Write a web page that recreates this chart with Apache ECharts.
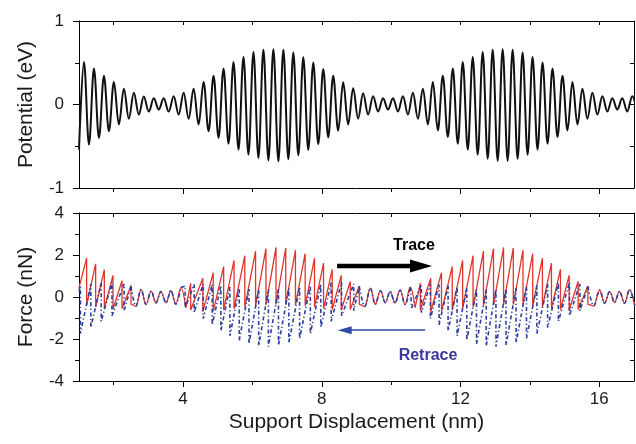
<!DOCTYPE html>
<html>
<head>
<meta charset="utf-8">
<script src="https://cdn.jsdelivr.net/npm/echarts@6/dist/echarts.min.js"></script>
<style>
  html, body { margin: 0; padding: 0; background: #fff; }
  #chart { width: 636px; height: 444px; }
</style>
</head>
<body>
<div id="chart"></div>
<script>
// Substrate potential sampled at its successive minima / maxima (eV).
// First entry is a minimum at potentialStartX, then max, min, max, ...
const potentialStartX = 1.0;        // nm
const potentialHalfStep = 0.14369;  // nm between neighbouring extrema
const potentialExtrema = [
  -0.54,
  0.51, -0.48, 0.43, -0.40, 0.345, -0.32, 0.27, -0.24, 0.19, -0.17,
  0.14, -0.12, 0.095, -0.085, 0.075, -0.06, 0.075, -0.085, 0.10, -0.12,
  0.14, -0.17, 0.19, -0.24, 0.27, -0.32, 0.345, -0.40, 0.43, -0.47,
  0.51, -0.54, 0.57, -0.60, 0.63, -0.64, 0.655, -0.67, 0.663, -0.68,
  0.655, -0.655, 0.623, -0.607, 0.567, -0.544, 0.504, -0.476, 0.425, -0.393,
  0.345, -0.313, 0.266, -0.238, 0.194, -0.17, 0.135, -0.12, 0.10, -0.083,
  0.075, -0.06, 0.075, -0.083, 0.10, -0.12, 0.14, -0.17, 0.19, -0.24,
  0.27, -0.31, 0.345, -0.39, 0.43, -0.47, 0.51, -0.54, 0.57, -0.60,
  0.63, -0.65, 0.655, -0.675, 0.663, -0.675, 0.655, -0.65, 0.623, -0.60,
  0.57, -0.54, 0.504, -0.47, 0.43, -0.39, 0.345, -0.31, 0.27, -0.24,
  0.19, -0.17, 0.14, -0.12, 0.10, -0.083, 0.075, -0.06, 0.075, -0.083,
  0.10, -0.12
];

// Lateral force while the support moves forward (trace), [nm, nN].
// Stick-slip: each slip is a vertical drop at the same x.
const traceForce = [
  [1.00, 0.45],
  [1.22, 1.85], [1.22, -0.40], [1.48, 1.58], [1.48, -0.48], [1.73, 1.30], [1.73, -0.55],
  [1.98, 1.03], [1.98, -0.58], [2.24, 0.78], [2.24, -0.55], [2.50, 0.55], [2.50, -0.35],
  [2.64, -0.44], [2.79, 0.36], [2.93, -0.36], [3.08, 0.28], [3.22, -0.28], [3.36, 0.26],
  [3.51, -0.27], [3.65, 0.31], [3.79, -0.34], [3.94, 0.45], [4.08, -0.50],
  [4.22, 0.65], [4.22, -0.62], [4.57, 0.89], [4.57, -0.70], [4.87, 1.16], [4.87, -0.68],
  [5.17, 1.45], [5.17, -0.62], [5.47, 1.74], [5.47, -0.55], [5.78, 1.97], [5.78, -0.48],
  [6.09, 2.18], [6.09, -0.42], [6.39, 2.30], [6.39, -0.38], [6.68, 2.36], [6.68, -0.36],
  [6.96, 2.33], [6.96, -0.36], [7.24, 2.23], [7.24, -0.38], [7.52, 2.06], [7.52, -0.42],
  [7.79, 1.85], [7.79, -0.48], [8.05, 1.61], [8.05, -0.55], [8.30, 1.32], [8.30, -0.60],
  [8.56, 1.03], [8.56, -0.62], [8.82, 0.74], [8.82, -0.60], [9.08, 0.52], [9.08, -0.35],
  [9.24, -0.45], [9.40, 0.42], [9.54, -0.35], [9.69, 0.30], [9.83, -0.27], [9.97, 0.26],
  [10.11, -0.28], [10.26, 0.33], [10.40, -0.36], [10.55, 0.47], [10.69, -0.50],
  [10.84, 0.65], [10.84, -0.62], [11.14, 0.89], [11.14, -0.70], [11.45, 1.16], [11.45, -0.68],
  [11.76, 1.45], [11.76, -0.62], [12.06, 1.74], [12.06, -0.55], [12.36, 1.97], [12.36, -0.48],
  [12.66, 2.18], [12.66, -0.42], [12.95, 2.30], [12.95, -0.38], [13.24, 2.36], [13.24, -0.36],
  [13.52, 2.33], [13.52, -0.36], [13.80, 2.23], [13.80, -0.38], [14.08, 2.06], [14.08, -0.42],
  [14.36, 1.85], [14.36, -0.48], [14.62, 1.61], [14.62, -0.55], [14.88, 1.32], [14.88, -0.60],
  [15.13, 1.03], [15.13, -0.62], [15.39, 0.74], [15.39, -0.60], [15.67, 0.52], [15.67, -0.35],
  [15.84, -0.42], [16.01, 0.33], [16.15, -0.30], [16.30, 0.26], [16.44, -0.26], [16.58, 0.27],
  [16.73, -0.30], [16.87, 0.35], [17.02, -0.40]
];

// Lateral force on the way back (retrace), [nm, nN].
const retraceForce = [
  [1.00, 0.30], [1.04, 0.55], [1.04, -1.74], [1.34, 0.62], [1.34, -1.45], [1.64, 0.68], [1.64, -1.16],
  [1.95, 0.70], [1.95, -0.89], [2.30, 0.62], [2.30, -0.65], [2.50, 0.50],
  [2.64, -0.44], [2.79, 0.36], [2.93, -0.36], [3.08, 0.28], [3.22, -0.28], [3.36, 0.26],
  [3.51, -0.27], [3.65, 0.31], [3.79, -0.34], [3.94, 0.45],
  [4.06, 0.52], [4.06, -0.52], [4.32, 0.60], [4.32, -0.74], [4.58, 0.62], [4.58, -1.03],
  [4.84, 0.60], [4.84, -1.32], [5.09, 0.55], [5.09, -1.61], [5.35, 0.48], [5.35, -1.85],
  [5.62, 0.42], [5.62, -2.06], [5.90, 0.38], [5.90, -2.23], [6.18, 0.36], [6.18, -2.33],
  [6.46, 0.36], [6.46, -2.36], [6.75, 0.38], [6.75, -2.30], [7.05, 0.42], [7.05, -2.18],
  [7.36, 0.48], [7.36, -1.97], [7.67, 0.55], [7.67, -1.74], [7.97, 0.62], [7.97, -1.45],
  [8.27, 0.68], [8.27, -1.16], [8.57, 0.70], [8.57, -0.89], [8.92, 0.62], [8.92, -0.65],
  [9.08, 0.50],
  [9.24, -0.45], [9.40, 0.42], [9.54, -0.35], [9.69, 0.30], [9.83, -0.27], [9.97, 0.26],
  [10.11, -0.28], [10.26, 0.33], [10.40, -0.36], [10.55, 0.47],
  [10.59, 0.52], [10.59, -0.52], [10.87, 0.60], [10.87, -0.74], [11.13, 0.62], [11.13, -1.03],
  [11.38, 0.60], [11.38, -1.32], [11.64, 0.55], [11.64, -1.61], [11.90, 0.48], [11.90, -1.85],
  [12.18, 0.42], [12.18, -2.06], [12.46, 0.38], [12.46, -2.23], [12.74, 0.36], [12.74, -2.33],
  [13.02, 0.36], [13.02, -2.36], [13.31, 0.38], [13.31, -2.30], [13.60, 0.42], [13.60, -2.18],
  [13.90, 0.48], [13.90, -1.97], [14.20, 0.55], [14.20, -1.74], [14.51, 0.62], [14.51, -1.45],
  [14.82, 0.68], [14.82, -1.16], [15.14, 0.70], [15.14, -0.89], [15.44, 0.62], [15.44, -0.65],
  [15.67, 0.50],
  [15.84, -0.42], [16.01, 0.33], [16.15, -0.30], [16.30, 0.26], [16.44, -0.26], [16.58, 0.27],
  [16.73, -0.30], [16.87, 0.35], [17.02, -0.40]
];

// x-ranges (nm) where the sliding is smooth rather than stick-slip
const traceSmoothSpans = [[2.50, 4.08], [9.08, 10.69], [15.67, 17.1]];
const retraceSmoothSpans = [[2.50, 3.94], [9.08, 10.55], [15.67, 17.1]];

// Tick positions on the displacement axis
const xLabelTicks = [4, 8, 12, 16];
const xMinorTicks = [2, 6, 10, 14];
const xAllTicks = [2, 4, 6, 8, 10, 12, 14, 16];

// Arrow annotations [from, to] in data units
const traceArrow = [[8.44, 1.48], [10.86, 1.48]];
const retraceArrow = [[10.98, -1.58], [8.66, -1.58]];

const FONT = '"Liberation Sans", Arial, Helvetica, sans-serif';
const RED = '#e3342b';
const BLUE = '#2b3f9d';

// Break a vertex list into straight (stick-slip) runs and smooth runs.
function splitRuns(points, spans) {
  const inSpan = x => spans.some(s => x >= s[0] - 1e-9 && x <= s[1] + 1e-9);
  const straight = [], smooth = [];
  let cur = null, curSmooth = null;
  const flush = () => {
    if (!cur) return;
    const target = curSmooth ? smooth : straight;
    if (target.length) target.push([cur[0][0], null]);
    cur.forEach(p => target.push(p));
  };
  for (let i = 0; i < points.length - 1; i++) {
    const s = inSpan(points[i][0]) && inSpan(points[i + 1][0]);
    if (cur && s === curSmooth) {
      cur.push(points[i + 1]);
    } else {
      flush();
      cur = [points[i], points[i + 1]];
      curSmooth = s;
    }
  }
  flush();
  return { straight, smooth };
}

const potentialData = potentialExtrema.map((v, i) => [potentialStartX + i * potentialHalfStep, v]);
const traceRuns = splitRuns(traceForce, traceSmoothSpans);
const retraceRuns = splitRuns(retraceForce, retraceSmoothSpans);

const axisLine = { show: true, onZero: false, lineStyle: { color: '#000', width: 1 } };
const noSplit = { show: false };
const retraceStyle = { color: BLUE, width: 1.6, type: [4, 2.5, 1.2, 2.5] };

function xAxes(gridIndex, withLabels) {
  return [
    {
      gridIndex, type: 'value', position: 'bottom', min: 1, max: 17,
      axisLine,
      axisTick: { show: true, customValues: xLabelTicks, length: 6, lineStyle: { color: '#000' } },
      axisLabel: withLabels
        ? { show: true, customValues: xLabelTicks, margin: 10, fontSize: 17, fontFamily: FONT, color: '#1a1a1a' }
        : { show: false },
      splitLine: noSplit,
      name: withLabels ? 'Support Displacement (nm)' : '',
      nameLocation: 'middle', nameGap: 31,
      nameTextStyle: { fontSize: 21, fontFamily: FONT, color: '#1a1a1a' }
    },
    {
      gridIndex, type: 'value', position: 'bottom', min: 1, max: 17,
      axisLine: { show: false, onZero: false },
      axisTick: { show: true, customValues: xMinorTicks, length: 4, lineStyle: { color: '#000' } },
      axisLabel: { show: false }, splitLine: noSplit
    },
    {
      gridIndex, type: 'value', position: 'top', min: 1, max: 17,
      axisLine,
      axisTick: { show: true, inside: true, customValues: xAllTicks, length: 4, lineStyle: { color: '#000' } },
      axisLabel: { show: false }, splitLine: noSplit
    }
  ];
}

const option = {
  animation: false,
  backgroundColor: '#fff',
  grid: [
    { left: 79, top: 21, width: 555, height: 167 },
    { left: 79, top: 213, width: 555, height: 168 }
  ],
  xAxis: [...xAxes(0, false), ...xAxes(1, true)],
  yAxis: [
    {
      gridIndex: 0, type: 'value', position: 'left', min: -1, max: 1, interval: 1,
      axisLine,
      axisTick: { show: true, length: 6, lineStyle: { color: '#000' } },
      minorTick: { show: true, splitNumber: 2, length: 4, lineStyle: { color: '#000' } },
      axisLabel: { margin: 15, fontSize: 17, fontFamily: FONT, color: '#1a1a1a' },
      splitLine: noSplit, minorSplitLine: noSplit,
      name: 'Potential (eV)', nameLocation: 'middle', nameGap: 42,
      nameTextStyle: { fontSize: 21, fontFamily: FONT, color: '#1a1a1a' }
    },
    {
      gridIndex: 0, type: 'value', position: 'right', min: -1, max: 1, interval: 0.5,
      axisLine,
      axisTick: { show: true, inside: true, length: 4, lineStyle: { color: '#000' } },
      axisLabel: { show: false }, splitLine: noSplit
    },
    {
      gridIndex: 1, type: 'value', position: 'left', min: -4, max: 4, interval: 2,
      axisLine,
      axisTick: { show: true, length: 6, lineStyle: { color: '#000' } },
      minorTick: { show: true, splitNumber: 2, length: 4, lineStyle: { color: '#000' } },
      axisLabel: { margin: 15, fontSize: 17, fontFamily: FONT, color: '#1a1a1a' },
      splitLine: noSplit, minorSplitLine: noSplit,
      name: 'Force (nN)', nameLocation: 'middle', nameGap: 42,
      nameTextStyle: { fontSize: 21, fontFamily: FONT, color: '#1a1a1a' }
    },
    {
      gridIndex: 1, type: 'value', position: 'right', min: -4, max: 4, interval: 1,
      axisLine,
      axisTick: { show: true, inside: true, length: 4, lineStyle: { color: '#000' } },
      axisLabel: { show: false }, splitLine: noSplit
    }
  ],
  series: [
    {
      name: 'Potential', type: 'line', xAxisIndex: 0, yAxisIndex: 0,
      data: potentialData, smooth: 0.363, smoothMonotone: 'x',
      showSymbol: false, clip: true,
      lineStyle: { color: '#111', width: 2 }
    },
    {
      name: 'Trace', type: 'line', xAxisIndex: 3, yAxisIndex: 2,
      data: traceRuns.straight, showSymbol: false, clip: true, connectNulls: false,
      lineStyle: { color: RED, width: 1.3 }
    },
    {
      name: 'Trace smooth', type: 'line', xAxisIndex: 3, yAxisIndex: 2,
      data: traceRuns.smooth, smooth: 0.363, smoothMonotone: 'x',
      showSymbol: false, clip: true, connectNulls: false,
      lineStyle: { color: RED, width: 1.3 }
    },
    {
      name: 'Retrace', type: 'line', xAxisIndex: 3, yAxisIndex: 2,
      data: retraceRuns.straight, showSymbol: false, clip: true, connectNulls: false,
      lineStyle: retraceStyle
    },
    {
      name: 'Retrace smooth', type: 'line', xAxisIndex: 3, yAxisIndex: 2,
      data: retraceRuns.smooth, smooth: 0.363, smoothMonotone: 'x',
      showSymbol: false, clip: true, connectNulls: false,
      lineStyle: retraceStyle
    },
    {
      name: 'Direction', type: 'line', xAxisIndex: 3, yAxisIndex: 2, data: [],
      markLine: {
        silent: true, animation: false,
        label: { show: false },
        emphasis: { disabled: true },
        data: [
          [
            { coord: traceArrow[0], symbol: 'none', lineStyle: { color: '#000', width: 4.3, type: 'solid' } },
            { coord: traceArrow[1], symbol: 'triangle', symbolSize: [13, 22], lineStyle: { color: '#000', width: 4.3, type: 'solid' } }
          ],
          [
            { coord: retraceArrow[0], symbol: 'none', lineStyle: { color: '#2f4aa6', width: 1.6, type: 'solid' } },
            { coord: retraceArrow[1], symbol: 'triangle', symbolSize: [8, 14], lineStyle: { color: '#2f4aa6', width: 1.6, type: 'solid' } }
          ]
        ]
      }
    }
  ],
  graphic: [
    {
      type: 'text', x: 414, y: 246, silent: true,
      style: { text: 'Trace', fill: '#000', font: 'bold 16px ' + FONT, align: 'center', verticalAlign: 'middle' }
    },
    {
      type: 'text', x: 428, y: 355.5, silent: true,
      style: { text: 'Retrace', fill: '#3a3796', font: 'bold 16px ' + FONT, align: 'center', verticalAlign: 'middle' }
    }
  ]
};

const chart = echarts.init(document.getElementById('chart'), null, { renderer: 'canvas' });
chart.setOption(option);
</script>
</body>
</html>
